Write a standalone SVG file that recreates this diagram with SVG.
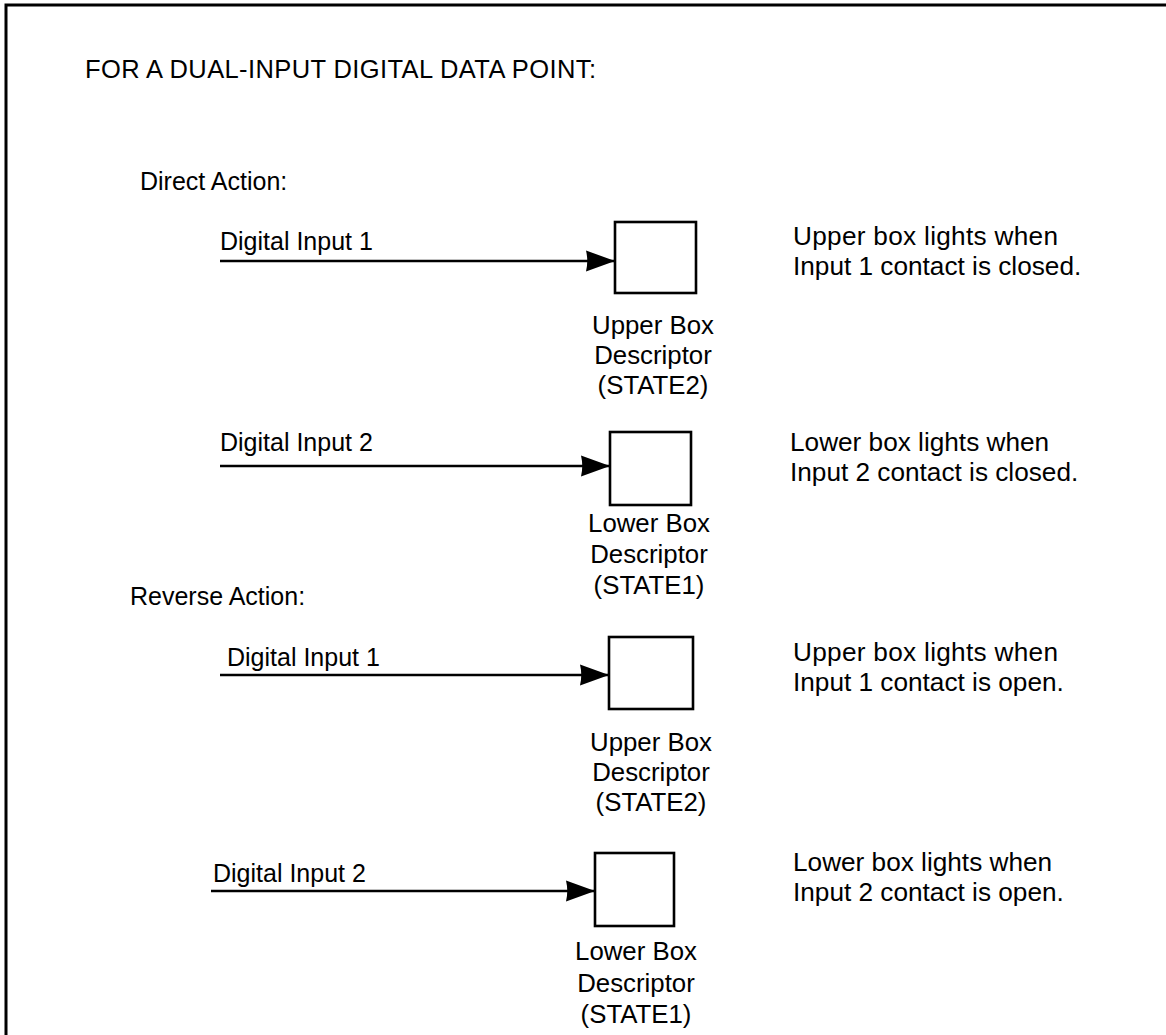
<svg xmlns="http://www.w3.org/2000/svg" width="1166" height="1035" viewBox="0 0 1166 1035">
<style>
text{font-family:"Liberation Sans",Arial,sans-serif;font-size:25px;fill:#000}
.h{font-size:25.5px}
.n{font-size:26.2px}
.c{text-anchor:middle;font-size:25.8px}
.box{fill:#fff;stroke:#000;stroke-width:2.6}
.wire{stroke:#000;stroke-width:2.6;fill:none;marker-end:url(#ah)}
</style>
<defs>
<marker id="ah" markerUnits="userSpaceOnUse" markerWidth="32" markerHeight="26" refX="30" refY="13" orient="auto">
<path d="M1,2.5 L30,13 L1,23.5 Q3.5,13 1,2.5 Z" fill="#000"/>
</marker>
</defs>
<rect width="1166" height="1035" fill="#fff"/>
<path d="M6,1035 V5 H1166" fill="none" stroke="#000" stroke-width="3"/>
<text class="h" x="85" y="78" textLength="511" lengthAdjust="spacing">FOR A DUAL-INPUT DIGITAL DATA POINT:</text>
<text x="140" y="190">Direct Action:</text>
<text x="130" y="605">Reverse Action:</text>
<g id="connectors">
<line class="wire" x1="220" y1="261" x2="615" y2="261"/>
<line class="wire" x1="220" y1="466" x2="610" y2="466"/>
<line class="wire" x1="220" y1="675" x2="609" y2="675"/>
<line class="wire" x1="211" y1="891" x2="595" y2="891"/>
</g>
<g id="input1a"><text x="220" y="250">Digital Input 1</text></g>
<g id="box1">
<rect class="box" x="615" y="222" width="81" height="71"/>
<text class="c" x="653" y="334">Upper Box</text>
<text class="c" x="653" y="364">Descriptor</text>
<text class="c" x="653" y="394">(STATE2)</text>
</g>
<g id="note1"><text class="n" x="793" y="245" textLength="265" lengthAdjust="spacing">Upper box lights when</text><text class="n" x="793" y="275">Input 1 contact is closed.</text></g>
<g id="input2a"><text x="220" y="451">Digital Input 2</text></g>
<g id="box2">
<rect class="box" x="610" y="432" width="81" height="73"/>
<text class="c" x="649" y="532">Lower Box</text>
<text class="c" x="649" y="563">Descriptor</text>
<text class="c" x="649" y="594">(STATE1)</text>
</g>
<g id="note2"><text class="n" x="790" y="451">Lower box lights when</text><text class="n" x="790" y="481">Input 2 contact is closed.</text></g>
<g id="input1b"><text x="227" y="666">Digital Input 1</text></g>
<g id="box3">
<rect class="box" x="609" y="637" width="84" height="72"/>
<text class="c" x="651" y="751">Upper Box</text>
<text class="c" x="651" y="781">Descriptor</text>
<text class="c" x="651" y="811">(STATE2)</text>
</g>
<g id="note3"><text class="n" x="793" y="661" textLength="265" lengthAdjust="spacing">Upper box lights when</text><text class="n" x="793" y="691">Input 1 contact is open.</text></g>
<g id="input2b"><text x="213" y="882">Digital Input 2</text></g>
<g id="box4">
<rect class="box" x="595" y="853" width="79" height="73"/>
<text class="c" x="636" y="960">Lower Box</text>
<text class="c" x="636" y="992">Descriptor</text>
<text class="c" x="636" y="1023">(STATE1)</text>
</g>
<g id="note4"><text class="n" x="793" y="871">Lower box lights when</text><text class="n" x="793" y="901">Input 2 contact is open.</text></g>
</svg>
